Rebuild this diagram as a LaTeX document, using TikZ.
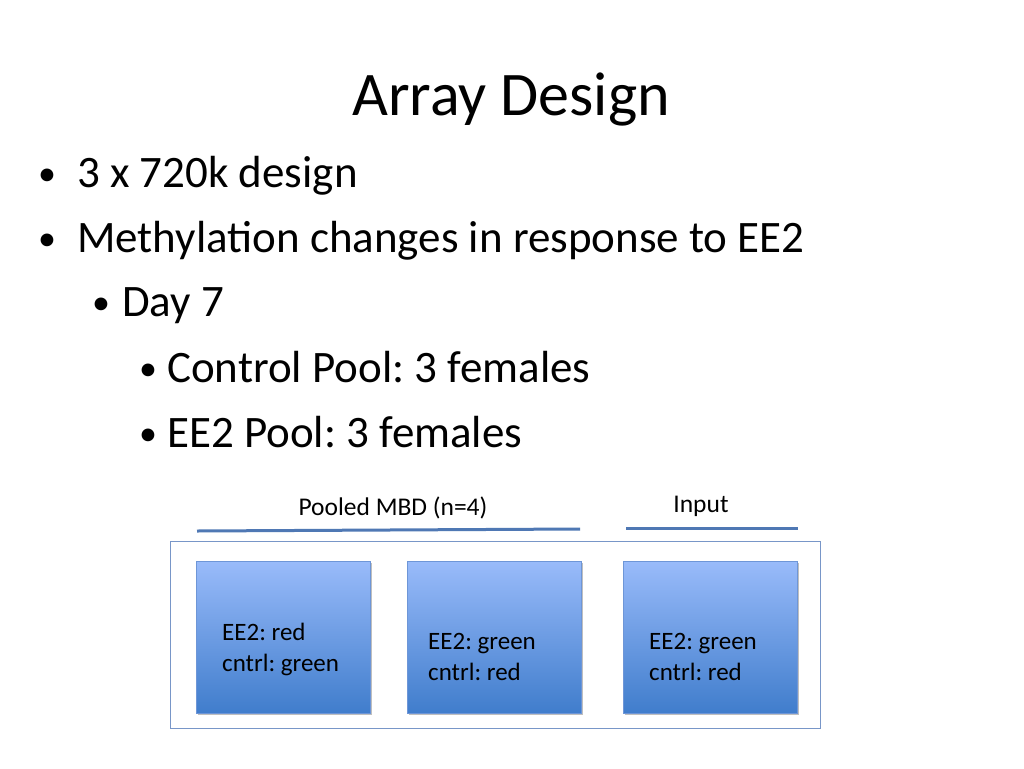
\documentclass[tikz,border=0pt]{standalone}
\usepackage{fontspec}
\setmainfont{Carlito}
\begin{document}
\frenchspacing
\begin{tikzpicture}[x=1pt,y=-1pt,
  bt/.style={font=\fontsize{45}{50}\selectfont, anchor=base west, inner sep=0},
  bl/.style={font=\fontsize{36}{40}\selectfont, anchor=base, inner sep=0},
  lt/.style={font=\fontsize{25}{30}\selectfont, align=left, anchor=base west, inner sep=0}]
\useasboundingbox (0,0) rectangle (1024,768);
\fill[white] (0,0) rectangle (1024,768);
\node[font=\fontsize{62}{68}\selectfont, anchor=base, inner sep=0] (title) at (511,115) {Array Design};
\node[bl] (b1) at (47,185) {•}; \node[bt] (t1) at (77,187) {3 x 720k design};
\node[bl] (b2) at (47,250) {•}; \node[bt] (t2) at (77,252) {Methylation changes in response to EE2};
\node[bl] (b3) at (101,314) {•}; \node[bt] (t3) at (122,316) {Day 7};
\node[bl] (b4) at (148,380) {•}; \node[bt] (t4) at (167,382) {Control Pool: 3 females};
\node[bl] (b5) at (148,445) {•}; \node[bt] (t5) at (167,447) {EE2 Pool: 3 females};
\node[font=\fontsize{25.5}{30}\selectfont, anchor=base, inner sep=0] (pl) at (393,515) {Pooled MBD (n=4)};
\node[font=\fontsize{25.5}{30}\selectfont, anchor=base, inner sep=0] (il) at (701,512) {Input};
\coordinate (p1) at (197,531); \coordinate (p2) at (580,529);
\coordinate (i1) at (626,528); \coordinate (i2) at (798,528);
\draw[line width=3pt, color={rgb,255:red,79;green,120;blue,180}] (p1) -- (p2);
\draw[line width=3pt, color={rgb,255:red,79;green,120;blue,180}] (i1) -- (i2);
\draw[line width=1pt, color={rgb,255:red,120;green,150;blue,200}] (170,541) rectangle (820,728);
\foreach \n/\a in {a/196, b/407, c/623}{
  \fill[black!25] (\a+2,563) rectangle (\a+176,715);
  \shade[top color={rgb,255:red,153;green,187;blue,250}, bottom color={rgb,255:red,64;green,125;blue,204}] (\a,561) rectangle (\a+174,713);
  \draw[color={rgb,255:red,110;green,150;blue,215}, line width=0.6pt] (\a,561) rectangle (\a+174,713);
}
\node[lt] (ta) at (222,640) {EE2: red};
\node[lt] (ta2) at (222,671) {cntrl: green};
\node[lt] (tb) at (428,649) {EE2: green};
\node[lt] (tb2) at (428,680) {cntrl: red};
\node[lt] (tc) at (649,649) {EE2: green};
\node[lt] (tc2) at (649,680) {cntrl: red};
\end{tikzpicture}
\end{document}
